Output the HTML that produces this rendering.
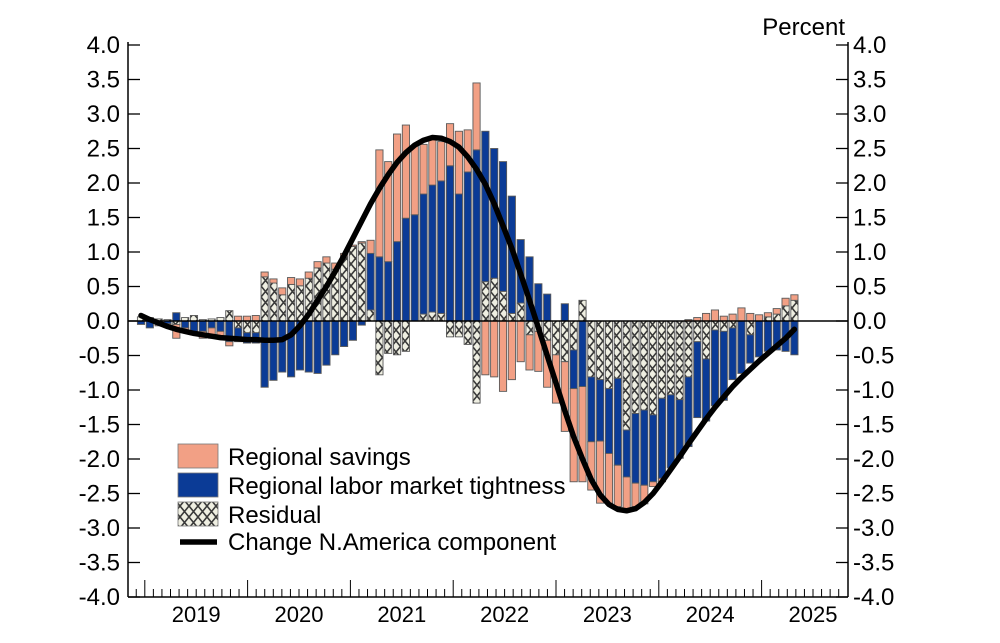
<!DOCTYPE html>
<html><head><meta charset="utf-8">
<style>
html,body{margin:0;padding:0;background:#fff;}
svg{display:block;font-family:"Liberation Sans",Arial,sans-serif;}
</style></head>
<body>
<svg id="chart" width="1000" height="643" viewBox="0 0 1000 643">
<defs>
<pattern id="hatch" patternUnits="userSpaceOnUse" width="9" height="11">
<rect width="9" height="11" fill="#efefe2"/>
<path d="M0,0 L9,11 M9,0 L0,11" stroke="#3a3a3a" stroke-width="1.6"/>
</pattern>
</defs>
<g id="axes"></g>
<g id="bars"></g>
<g id="zeroline"></g>
<g id="line"></g>
<g id="legend"></g>
</svg>
<script>
const yTicks = [4.0,3.5,3.0,2.5,2.0,1.5,1.0,0.5,0.0,-0.5,-1.0,-1.5,-2.0,-2.5,-3.0,-3.5,-4.0];
const yearLabels = ["2019","2020","2021","2022","2023","2024","2025"];
const savings = [0,0.02,-0.02,-0.05,-0.2,-0.05,-0.05,-0.1,-0.15,-0.1,-0.06,0.07,0.07,0.08,0.07,0.06,0.1,0.1,0.1,0.09,0.09,0.09,0.09,0.05,0.02,0.02,0.19,1.55,1.45,1.56,1.35,1.0,0.72,0.68,0.57,0.61,0.91,0.61,0.97,-0.78,-0.81,-1.02,-0.85,-0.59,-0.51,-0.58,-0.68,-0.7,-1.01,-1.35,-1.38,-0.7,-0.9,-0.72,-0.6,-0.46,-0.34,-0.27,-0.07,-0.05,0,0,0.02,0.05,0.11,0.16,0.07,0.1,0.19,0.11,0.09,0.06,0.08,0.11,0.08];
const labor = [-0.05,-0.1,-0.05,-0.04,0.12,-0.1,-0.15,-0.15,-0.1,-0.15,-0.3,-0.2,-0.15,-0.15,-0.96,-0.86,-0.74,-0.81,-0.71,-0.74,-0.76,-0.64,-0.49,-0.37,-0.28,-0.06,0.82,0.93,0.86,1.15,1.49,1.54,1.74,1.84,1.92,2.25,1.84,2.16,2.48,2.18,1.88,1.88,1.7,0.92,0.93,0.54,0.39,0.0,0.25,-0.56,-0.95,-0.94,-0.89,-0.94,-1.26,-0.68,-1.01,-1.09,-0.97,-1.16,-1.06,-0.85,-1.01,-1.1,-0.9,-1.1,-1.0,-0.75,-0.76,-0.41,-0.52,-0.44,-0.42,-0.44,-0.49];
const residual = [0.06,0.03,0.03,0.02,-0.05,0.05,0.08,0.02,0.03,0.05,0.15,-0.1,-0.17,-0.17,0.64,0.55,0.38,0.53,0.51,0.62,0.77,0.84,0.75,0.93,1.08,1.13,0.16,-0.78,-0.47,-0.49,-0.44,0,0.1,0.13,0.11,-0.23,-0.23,-0.34,-1.19,0.57,0.62,0.43,0.11,0.26,-0.2,-0.15,-0.28,-0.49,-0.59,-0.42,0.3,-0.81,-0.85,-0.98,-0.83,-1.58,-1.34,-1.29,-1.36,-1.12,-1.07,-1.14,-0.81,-0.3,-0.55,-0.13,-0.15,-0.1,0,-0.2,0,0.06,0.1,0.22,0.3];
const naChange = [0.08,0.02,-0.03,-0.08,-0.12,-0.15,-0.18,-0.2,-0.22,-0.24,-0.25,-0.26,-0.27,-0.27,-0.28,-0.28,-0.27,-0.2,-0.07,0.1,0.3,0.5,0.72,0.95,1.2,1.45,1.7,1.92,2.12,2.3,2.44,2.55,2.62,2.66,2.65,2.6,2.52,2.38,2.2,1.98,1.7,1.38,1.05,0.68,0.3,-0.1,-0.5,-0.9,-1.3,-1.68,-2.0,-2.3,-2.52,-2.66,-2.73,-2.75,-2.72,-2.63,-2.5,-2.33,-2.15,-1.97,-1.78,-1.6,-1.42,-1.25,-1.1,-0.95,-0.82,-0.7,-0.58,-0.47,-0.36,-0.25,-0.12];

const NS="http://www.w3.org/2000/svg";
function el(tag, attrs, parent){const e=document.createElementNS(NS,tag);for(const k in attrs)e.setAttribute(k,attrs[k]);parent.appendChild(e);return e;}
const L=128,R=848,T=45,B=597;
function y(v){return 321 - v*69;}
function x(i){return 141 + i*8.83;}
const janX = 247.6, monthW = 102.8/12;

const axes=document.getElementById('axes');
let a1=el('line',{x1:L,y1:T-3,x2:L,y2:B,stroke:'#000','stroke-width':1.5},axes);


let a2=el('line',{x1:R,y1:T-3,x2:R,y2:B,stroke:'#000','stroke-width':1.5},axes);


let a3=el('line',{x1:L,y1:B,x2:R,y2:B,stroke:'#000','stroke-width':1.5},axes);


yTicks.forEach(v=>{
  const yy=y(v);
  el('line',{x1:L,y1:yy,x2:L+12,y2:yy,stroke:'#000','stroke-width':1.3},axes);
  el('line',{x1:R-12,y1:yy,x2:R,y2:yy,stroke:'#000','stroke-width':1.3},axes);
  const lab=v.toFixed(1);
  const t1=el('text',{x:120,y:yy+8,'text-anchor':'end','font-size':24,fill:'#000'},axes);
  t1.textContent=lab;
  
  
  const t2=el('text',{x:853,y:yy+8,'text-anchor':'start','font-size':24,fill:'#000'},axes);
  t2.textContent=lab;
  
  
});
const pt=el('text',{x:845,y:35,'text-anchor':'end','font-size':24,fill:'#000'},axes);
pt.textContent='Percent';


for(let m=-14;m<=71;m++){
  const xx=janX+m*monthW;
  if(xx<L+1||xx>R-1)continue;
  const major=((m%12)+12)%12===0;
  el('line',{x1:xx,y1:B,x2:xx,y2:major?580:589,stroke:'#000','stroke-width':1},axes);
}
yearLabels.forEach((lab,k)=>{
  const t=el('text',{x:janX+(k-1)*102.8+51.4,y:622,'text-anchor':'middle','font-size':22,fill:'#000'},axes);
  t.textContent=lab;
  
  
});

const bars=document.getElementById('bars');
const series=[{d:residual,f:'url(#hatch)',n:'residual'},{d:labor,f:'#0b3b96',n:'labor'},{d:savings,f:'#f2a085',n:'savings'}];
for(let i=0;i<savings.length;i++){
  let pos=0,neg=0;
  series.forEach(s=>{
    const v=s.d[i]; if(!v)return;
    let y0,y1;
    if(v>0){y0=pos;y1=pos+v;pos=y1;}else{y0=neg;y1=neg+v;neg=y1;}
    const top=Math.min(y(y0),y(y1)),h=Math.abs(y(y0)-y(y1));
    const r=el('rect',{x:x(i)-3.6,y:top,width:7.2,height:h,fill:s.f,stroke:'#5a5a5a','stroke-width':0.9},bars);
    
    
  });
}
const zl=el('line',{x1:L,y1:y(0),x2:R,y2:y(0),stroke:'#000','stroke-width':1.6},document.getElementById('zeroline'));



const pts=naChange.map((v,i)=>x(i).toFixed(1)+','+y(v).toFixed(1)).join(' ');
const pl=el('polyline',{points:pts,fill:'none',stroke:'#000','stroke-width':5.5,'stroke-linejoin':'round','stroke-linecap':'round'},document.getElementById('line'));



const lg=document.getElementById('legend');
const items=[['Regional savings','#f2a085','legend-savings'],['Regional labor market tightness','#0b3b96','legend-labor'],['Residual','url(#hatch)','legend-residual']];
items.forEach((it,k)=>{
  const yy=444+k*29;
  const r=el('rect',{x:178,y:yy,width:40,height:24,fill:it[1],stroke:'#777','stroke-width':0.8},lg);
  
  
  const t=el('text',{x:228,y:yy+21,'font-size':24,fill:'#000'},lg);
  t.textContent=it[0];
  
  
});
const ll=el('line',{x1:180,y1:542,x2:217,y2:542,stroke:'#000','stroke-width':5.5},lg);


const lt=el('text',{x:228,y:550,'font-size':24,fill:'#000'},lg);
lt.textContent='Change N.America component';


</script>
</body></html>
